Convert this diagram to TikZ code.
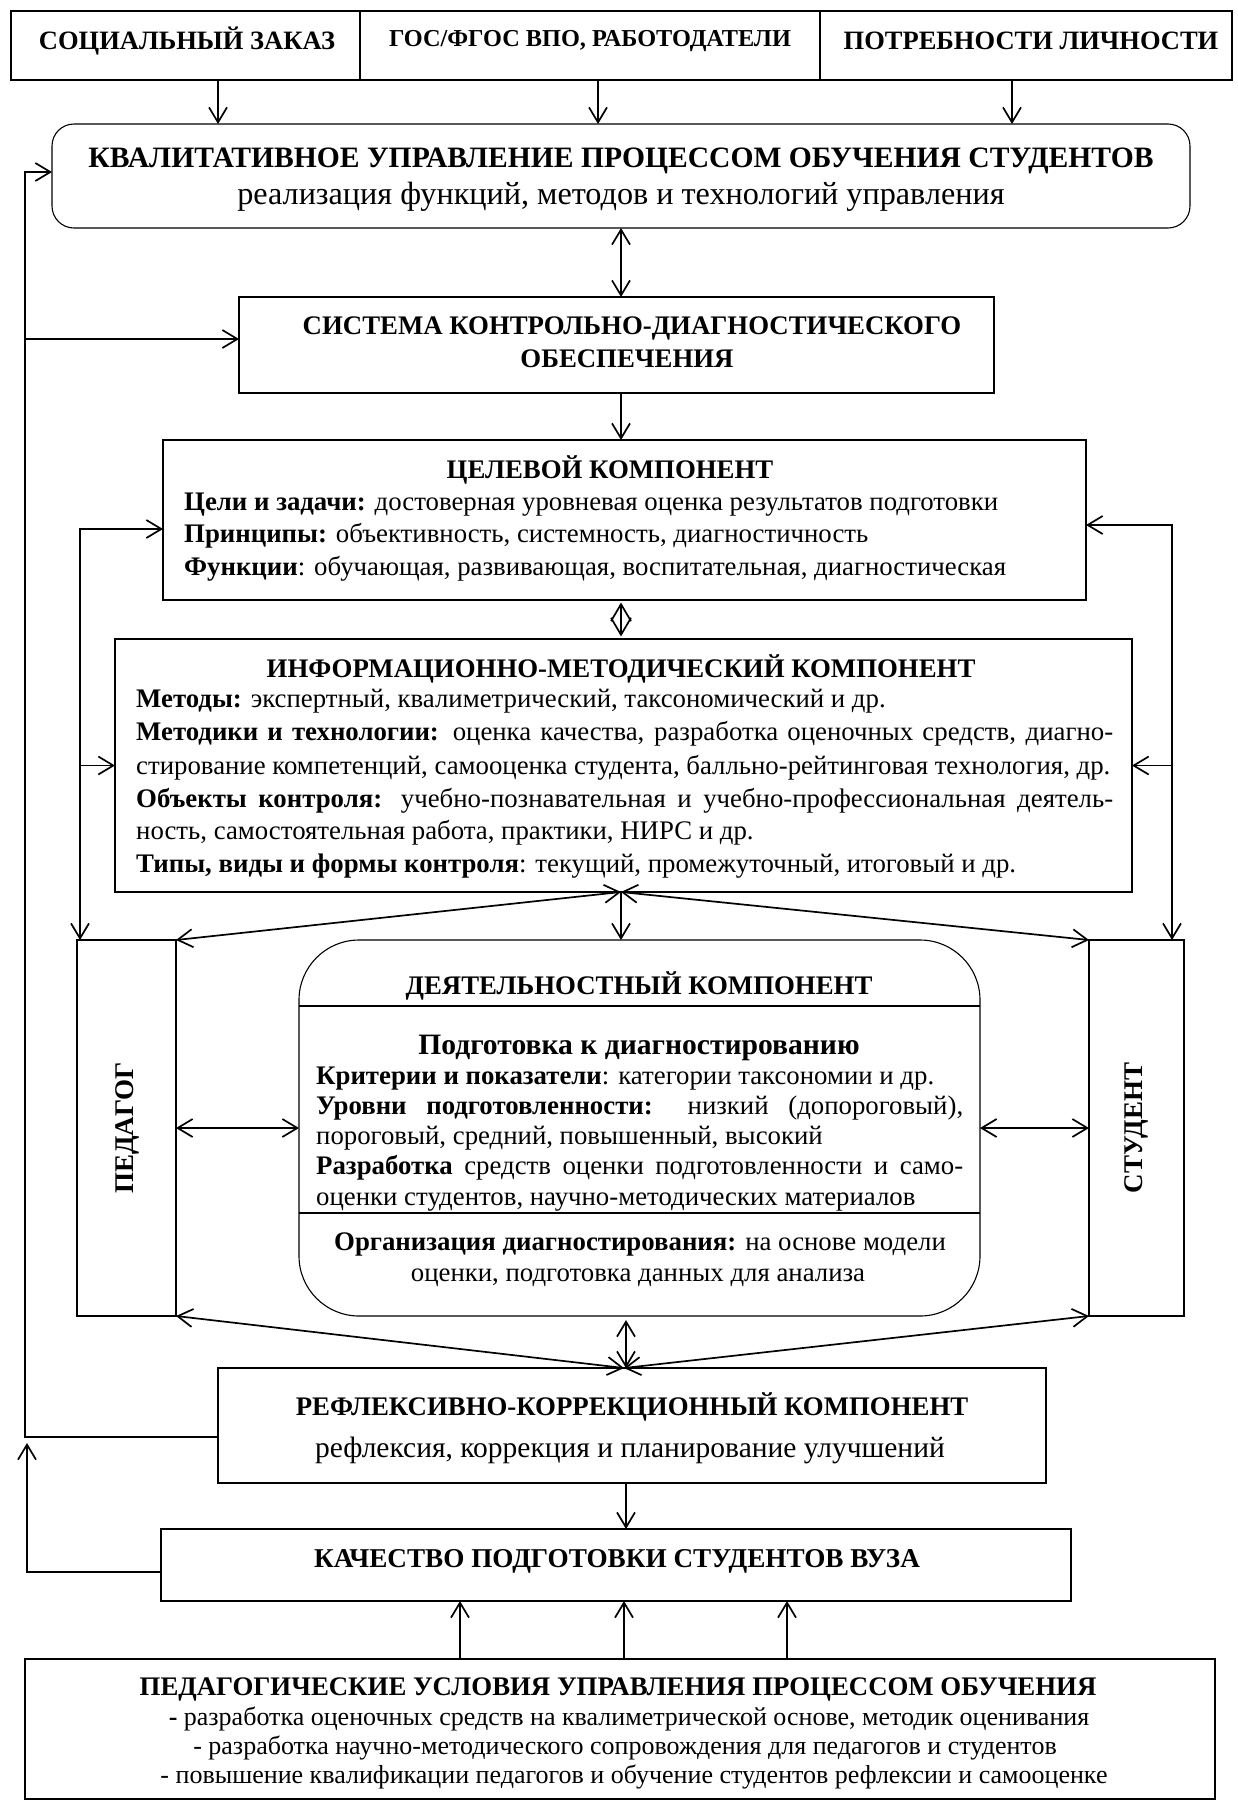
\documentclass[tikz,border=0pt]{standalone}
\usepackage{fontspec}
\setmainfont{Liberation Serif}
\usetikzlibrary{arrows.meta}
\newcommand\myfb[1]{\fontsize{#1}{#1}\selectfont\bfseries}
\newcommand\myfr[1]{\fontsize{#1}{#1}\selectfont}
\newcommand\mytxt[5]{\node[inner sep=0pt,anchor=#1,font=#2] (#3) at (#4) {#5};}
\begin{document}
\begin{tikzpicture}[x=1pt,y=-1pt,
 box/.style={draw,line width=1.1pt,inner sep=0pt,outer sep=0pt,anchor=north west},
 lnk/.style={line width=1.7pt},
 ar/.style={lnk,-{Straight Barb[length=15pt,width=18pt]}},
 dar/.style={lnk,{Straight Barb[length=15pt,width=18pt]}-{Straight Barb[length=15pt,width=18pt]}},
]
\fill[white] (0,0) rectangle (1238,1802);
\useasboundingbox (0,0) rectangle (1238,1802);
% column coordinates
\coordinate (xA) at (218,0);
\coordinate (xB) at (598,0);
\coordinate (xC) at (1012,0);
\coordinate (xM) at (621,0);
\coordinate (xD) at (626,0);
\coordinate (fbL) at (25,0);
\coordinate (inL) at (80,0);
\coordinate (inR) at (1172,0);
\coordinate (u1) at (460,0);
\coordinate (u2) at (624,0);
\coordinate (u3) at (787,0);
\coordinate (s1) at (0,1006);
\coordinate (s2) at (0,1213);
\coordinate (kEnd) at (27,1443);
% boxes
\node[box,minimum width=349pt,minimum height=69pt] (soc) at (11,11) {};
\node[box,minimum width=460pt,minimum height=69pt] (gos) at (360,11) {};
\node[box,minimum width=412pt,minimum height=69pt] (pot) at (820,11) {};
\node[box,rounded corners=22pt,minimum width=1138pt,minimum height=104pt] (kval) at (52,124) {};
\node[box,minimum width=755pt,minimum height=96pt] (sys) at (239,297) {};
\node[box,minimum width=923pt,minimum height=160pt] (cel) at (163,440) {};
\node[box,minimum width=1017pt,minimum height=253pt] (inf) at (115,639) {};
\node[box,minimum width=99pt,minimum height=376pt] (ped) at (77,940) {};
\node[box,minimum width=95pt,minimum height=376pt] (stu) at (1089,940) {};
\node[box,rounded corners=60pt,minimum width=681pt,minimum height=376pt] (dea) at (299,940) {};
\node[box,minimum width=828pt,minimum height=115pt] (refl) at (218,1368) {};
\node[box,minimum width=910pt,minimum height=72pt] (kach) at (161,1529) {};
\node[box,minimum width=1190pt,minimum height=140pt] (usl) at (25,1659) {};
\draw[line width=1.1pt] (dea.west |- s1) -- (dea.east |- s1);
\draw[line width=1.1pt] (dea.west |- s2) -- (dea.east |- s2);
% connectors
\draw[ar] (soc.south -| xA) -- (kval.north -| xA);
\draw[ar] (gos.south -| xB) -- (kval.north -| xB);
\draw[ar] (pot.south -| xC) -- (kval.north -| xC);
\draw[dar] (kval.south -| xM) -- (sys.north -| xM);
\draw[ar] (sys.south -| xM) -- (cel.north -| xM);
\draw[lnk,{Straight Barb[length=17pt,width=20pt]}-{Straight Barb[length=17pt,width=20pt]},shorten <=2.5pt,shorten >=2.5pt] (cel.south -| xM) -- (inf.north -| xM);
\coordinate (r0) at ([yshift=-11.5pt]refl.west);
\coordinate (k1) at ([yshift=4pt]kval.west);
\draw[ar] (r0) -- (r0 -| fbL) -- (k1 -| fbL) -- (k1);
\coordinate (s0) at ([yshift=6pt]sys.west);
\draw[ar] (s0 -| fbL) -- (s0);
\coordinate (k0) at ([yshift=-7pt]kach.west);
\draw[ar] (k0) -- (k0 -| kEnd) -- (kEnd);
\coordinate (c0) at ([yshift=-9pt]cel.west);
\draw[dar] (c0) -- (c0 -| inL) -- (ped.north -| inL);
\draw[ar] (inf.west -| inL) -- (inf.west);
\coordinate (c1) at ([yshift=-5pt]cel.east);
\draw[dar] (c1) -- (c1 -| inR) -- (stu.north -| inR);
\draw[ar] (inf.east -| inR) -- (inf.east);
\draw[dar] (inf.south -| xM) -- (ped.north east);
\draw[dar] (inf.south -| xM) -- (stu.north west);
\draw[ar] (inf.south -| xM) -- (dea.north -| xM);
\draw[dar] (ped.east) -- (dea.west);
\draw[dar] (dea.east) -- (stu.west);
\coordinate (rTop) at (refl.north -| u2);
\draw[dar] (ped.south east) -- (rTop);
\draw[dar] (stu.south west) -- (rTop);
\draw[dar,shorten <=4pt] (dea.south -| xD) -- (refl.north -| xD);
\draw[ar] (refl.south -| xD) -- (kach.north -| xD);
\draw[ar] (usl.north -| u1) -- (kach.south -| u1);
\draw[ar] (usl.north -| u2) -- (kach.south -| u2);
\draw[ar] (usl.north -| u3) -- (kach.south -| u3);
% texts
\mytxt{base}{\myfb{26.5}}{tSoc}{187,49}{СОЦИАЛЬНЫЙ ЗАКАЗ}
\mytxt{base}{\myfb{24.3}}{tGos}{590,46}{ГОС/ФГОС ВПО, РАБОТОДАТЕЛИ}
\mytxt{base}{\myfb{26.5}}{tPot}{1031,49}{ПОТРЕБНОСТИ ЛИЧНОСТИ}
\mytxt{base}{\myfb{29.6}}{tK1}{621,167}{КВАЛИТАТИВНОЕ УПРАВЛЕНИЕ ПРОЦЕССОМ ОБУЧЕНИЯ СТУДЕНТОВ}
\mytxt{base}{\myfr{32.2}}{tK2}{621,204}{реализация функций, методов и технологий управления}
\mytxt{base}{\myfb{26.8}}{tS1}{632,334}{СИСТЕМА КОНТРОЛЬНО-ДИАГНОСТИЧЕСКОГО}
\mytxt{base}{\myfb{26.8}}{tS2}{627,367}{ОБЕСПЕЧЕНИЯ}
\mytxt{base}{\myfb{26.8}}{tC0}{610,478}{ЦЕЛЕВОЙ КОМПОНЕНТ}
\mytxt{base west}{\myfr{26.8}}{tC1}{184,510}{\textbf{Цели и задачи:} достоверная уровневая оценка результатов подготовки}
\mytxt{base west}{\myfr{26.8}}{tC2}{184,542}{\textbf{Принципы:} объективность, системность, диагностичность}
\mytxt{base west}{\myfr{26.8}}{tC3}{184,575}{\textbf{Функции}: обучающая, развивающая, воспитательная, диагностическая}
\mytxt{base}{\myfb{26.8}}{tI0}{621,677}{ИНФОРМАЦИОННО-МЕТОДИЧЕСКИЙ КОМПОНЕНТ}
\mytxt{base west}{\myfr{26.8}}{tI1}{136,707}{\textbf{Методы:} экспертный, квалиметрический, таксономический и др.}
\mytxt{base west}{\myfr{26.8}}{tI2}{136,740}{\makebox[977pt][s]{\textbf{Методики и технологии:} оценка качества, разработка оценочных средств, диагно-}}
\mytxt{base west}{\myfr{26.8}}{tI3}{136,774}{стирование компетенций, самооценка студента, балльно-рейтинговая технология, др.}
\mytxt{base west}{\myfr{26.8}}{tI4}{136,807}{\makebox[977pt][s]{\textbf{Объекты контроля:} учебно-познавательная и учебно-профессиональная деятель-}}
\mytxt{base west}{\myfr{26.8}}{tI5}{136,839}{ность, самостоятельная работа, практики, НИРС и др.}
\mytxt{base west}{\myfr{26.8}}{tI6}{136,872}{\textbf{Типы, виды и формы контроля}: текущий, промежуточный, итоговый и др.}
\node[rotate=90,inner sep=0pt,font=\myfb{27}] (tPed) at (127,1128) {ПЕДАГОГ};
\node[rotate=90,inner sep=0pt,font=\myfb{27}] (tStu) at (1136,1128) {СТУДЕНТ};
\mytxt{base}{\myfb{26.8}}{tD0}{639,994}{ДЕЯТЕЛЬНОСТНЫЙ КОМПОНЕНТ}
\mytxt{base}{\myfb{29.6}}{tD1}{639,1054}{Подготовка к диагностированию}
\mytxt{base west}{\myfr{26.8}}{tD2}{316,1084}{\textbf{Критерии и показатели}: категории таксономии и др.}
\mytxt{base west}{\myfr{26.8}}{tD3}{316,1114}{\makebox[647pt][s]{\textbf{Уровни подготовленности:} низкий (допороговый),}}
\mytxt{base west}{\myfr{26.8}}{tD4}{316,1144}{пороговый, средний, повышенный, высокий}
\mytxt{base west}{\myfr{26.8}}{tD5}{316,1174}{\makebox[647pt][s]{\textbf{Разработка} средств оценки подготовленности и само-}}
\mytxt{base west}{\myfr{26.8}}{tD6}{316,1205}{оценки студентов, научно-методических материалов}
\mytxt{base}{\myfr{26.8}}{tD7}{640,1250}{\textbf{Организация диагностирования:} на основе модели}
\mytxt{base}{\myfr{26.8}}{tD8}{638,1281}{оценки, подготовка данных для анализа}
\mytxt{base}{\myfb{26.8}}{tR1}{632,1415}{РЕФЛЕКСИВНО-КОРРЕКЦИОННЫЙ КОМПОНЕНТ}
\mytxt{base}{\myfr{29.5}}{tR2}{630,1457}{рефлексия, коррекция и планирование улучшений}
\mytxt{base}{\myfb{27.2}}{tQ}{617,1567}{КАЧЕСТВО ПОДГОТОВКИ СТУДЕНТОВ ВУЗА}
\mytxt{base}{\myfb{26.8}}{tU0}{618,1695}{ПЕДАГОГИЧЕСКИЕ УСЛОВИЯ УПРАВЛЕНИЯ ПРОЦЕССОМ ОБУЧЕНИЯ}
\mytxt{base}{\myfr{26}}{tU1}{629,1725}{\textbf{-} разработка оценочных средств на квалиметрической основе, методик оценивания}
\mytxt{base}{\myfr{26}}{tU2}{625,1754}{- разработка научно-методического сопровождения для педагогов и студентов}
\mytxt{base}{\myfr{26}}{tU3}{634,1783}{- повышение квалификации педагогов и обучение студентов рефлексии и самооценке}
\end{tikzpicture}
\end{document}
